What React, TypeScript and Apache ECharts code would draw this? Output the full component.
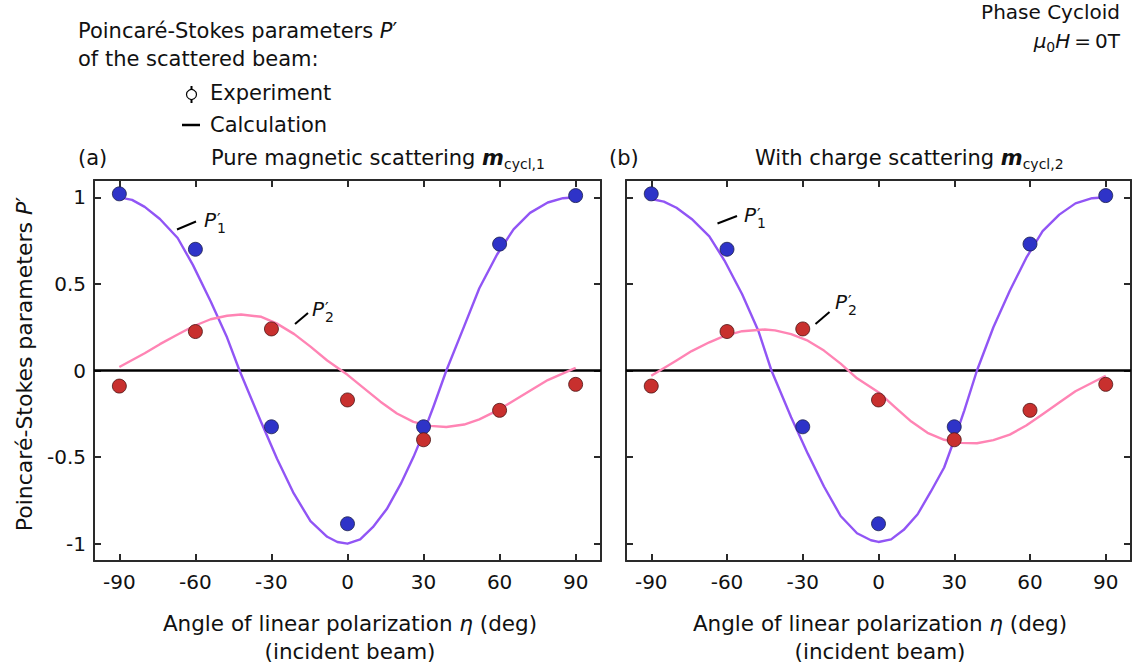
import React, { useEffect, useRef } from "react";
import * as echarts from "echarts";

// ---------- data ----------
const xTicks = [-90, -60, -30, 0, 30, 60, 90];
const yTicks = [-1, -0.5, 0, 0.5, 1];

const expAngles = [-90, -60, -30, 0, 30, 60, 90];
const expP1 = [1.02, 0.7, -0.325, -0.885, -0.325, 0.73, 1.01];
const expP2 = [-0.09, 0.225, 0.24, -0.17, -0.4, -0.23, -0.08];

// panel (a): pure magnetic scattering, calculation
const calcA_P1_angles = [-90, -85, -80, -74, -67, -61, -54, -47.5, -42.6, -34.3, -27.8, -21.2, -14.6, -8, -4, 0, 5, 10, 15.5, 21, 26, 30, 34, 39, 46, 52, 59, 65.5, 72, 79, 85, 90];
const calcA_P1 = [1.0, 0.985, 0.945, 0.875, 0.765, 0.61, 0.4, 0.19, 0, -0.29, -0.51, -0.71, -0.87, -0.96, -0.99, -1.0, -0.975, -0.905, -0.8, -0.655, -0.5, -0.36, -0.205, 0, 0.255, 0.475, 0.67, 0.815, 0.91, 0.97, 0.995, 1.0];
const calcA_P2_angles = [-90, -80, -74, -67, -61, -54, -47.5, -42, -34, -28, -21, -14.6, -8, 0, 6.3, 13, 19.5, 26, 32.6, 39, 46, 52, 59, 65.5, 72, 79, 90];
const calcA_P2 = [0.02, 0.1, 0.152, 0.208, 0.254, 0.296, 0.316, 0.323, 0.31, 0.272, 0.21, 0.138, 0.058, -0.025, -0.1, -0.18, -0.248, -0.297, -0.32, -0.326, -0.312, -0.282, -0.232, -0.175, -0.117, -0.055, 0.015];

// panel (b): with charge scattering, calculation
const calcB_P1_angles = [-90, -85, -80, -74, -67, -61, -54, -47.6, -42.4, -34.6, -28, -21.6, -15, -8.5, -3, 0, 5, 10, 15.5, 20.7, 26, 30, 34, 39, 45.5, 52, 58.5, 65, 71.6, 78, 84.6, 90];
const calcB_P1 = [0.99, 0.975, 0.94, 0.875, 0.775, 0.635, 0.44, 0.23, 0, -0.27, -0.48, -0.67, -0.84, -0.94, -0.98, -0.99, -0.975, -0.92, -0.83, -0.7, -0.56, -0.4, -0.23, 0, 0.25, 0.46, 0.65, 0.805, 0.9, 0.965, 0.995, 1.0];
const calcB_P2_angles = [-90, -80, -74, -67, -61, -54, -45, -41, -34.6, -28, -21.6, -15, -8.5, 0, 6.4, 13, 19.4, 26, 32.5, 39, 45.5, 52, 58.5, 65, 71.6, 78, 90];
const calcB_P2 = [-0.03, 0.058, 0.112, 0.163, 0.2, 0.227, 0.237, 0.232, 0.21, 0.172, 0.115, 0.04, -0.045, -0.125, -0.21, -0.295, -0.36, -0.4, -0.418, -0.42, -0.402, -0.37, -0.318, -0.252, -0.185, -0.12, -0.03];

const zeroLineX = [-100, 100];
const zeroLineY = [0, 0];

// ---------- style ----------
const FONT = "'DejaVu Sans', Verdana, sans-serif";
const FS = 21;
const FRAME = "#2a2a2a";
const PURPLE = "#9155F5";
const PINK = "#FF84B4";
const BLUE = "#2E33C8";
const RED = "#C8302E";

const zip = (a: number[], b: number[]) => a.map((v, i) => [v, b[i]]);

function makeXAxis(grid: number, pos: "bottom" | "top", labels: boolean) {
  return {
    type: "value",
    gridIndex: grid,
    position: pos,
    min: -100,
    max: 100,
    axisLine: { show: true, onZero: false, lineStyle: { color: FRAME, width: 2 } },
    axisTick: { show: true, inside: true, length: 7, customValues: xTicks, lineStyle: { color: FRAME, width: 2 } },
    axisLabel: {
      show: labels,
      customValues: xTicks,
      formatter: (v: number) => String(v),
      margin: 11,
      fontSize: 20,
      fontFamily: FONT,
      color: "#111",
    },
    splitLine: { show: false },
  };
}

function makeYAxis(grid: number, pos: "left" | "right", labels: boolean) {
  return {
    type: "value",
    gridIndex: grid,
    position: pos,
    min: -1.1,
    max: 1.1,
    axisLine: { show: true, onZero: false, lineStyle: { color: FRAME, width: 2 } },
    axisTick: { show: true, inside: true, length: 7, customValues: yTicks, lineStyle: { color: FRAME, width: 2 } },
    axisLabel: {
      show: labels,
      customValues: yTicks,
      formatter: (v: number) => String(v),
      margin: 8,
      fontSize: 20,
      fontFamily: FONT,
      color: "#111",
    },
    splitLine: { show: false },
  };
}

function panelSeries(xi: number, yi: number, p1a: number[], p1: number[], p2a: number[], p2: number[]) {
  return [
    {
      type: "line",
      xAxisIndex: xi,
      yAxisIndex: yi,
      data: zip(zeroLineX, zeroLineY),
      symbol: "none",
      silent: true,
      lineStyle: { color: "#000", width: 2.5 },
      z: 1,
    },
    {
      type: "line",
      xAxisIndex: xi,
      yAxisIndex: yi,
      data: zip(p1a, p1),
      symbol: "none",
      smooth: false,
      lineStyle: { color: PURPLE, width: 2.4, join: "round" },
      z: 2,
    },
    {
      type: "line",
      xAxisIndex: xi,
      yAxisIndex: yi,
      data: zip(p2a, p2),
      symbol: "none",
      smooth: false,
      lineStyle: { color: PINK, width: 2.4, join: "round" },
      z: 2,
    },
    {
      type: "scatter",
      xAxisIndex: xi,
      yAxisIndex: yi,
      data: zip(expAngles, expP1),
      symbol: "circle",
      symbolSize: 14,
      itemStyle: { color: BLUE, borderColor: "#1c1f4a", borderWidth: 0.8, opacity: 1 },
      z: 3,
    },
    {
      type: "scatter",
      xAxisIndex: xi,
      yAxisIndex: yi,
      data: zip(expAngles, expP2),
      symbol: "circle",
      symbolSize: 14,
      itemStyle: { color: RED, borderColor: "#4a1414", borderWidth: 0.8, opacity: 1 },
      z: 3,
    },
  ];
}

const baseText = { fontFamily: FONT, fontSize: FS, fill: "#111" };

function txt(x: number, y: number, text: string, align = "left", extra: any = {}) {
  return {
    type: "text",
    x,
    y,
    style: { ...baseText, text, align, verticalAlign: "middle", ...extra },
  };
}

function richStyles(fs: number) {
  return {
    n: { fontFamily: FONT, fontSize: fs, fill: "#111", lineHeight: 24 },
    i: { fontFamily: FONT, fontSize: fs, fontStyle: "italic", fill: "#111", lineHeight: 24 },
    m: { fontFamily: FONT, fontSize: fs, fontStyle: "italic", fontWeight: "bold", fill: "#111", lineHeight: 24 },
    s: { fontFamily: FONT, fontSize: 14, fill: "#111", lineHeight: 14, padding: [12, 0, 0, 0] },
  };
}

function richTxt(x: number, y: number, text: string, align = "left", rotation = 0, fs = FS) {
  return {
    type: "text",
    x,
    y,
    rotation,
    style: { ...baseText, fontSize: fs, text, align, verticalAlign: "middle", rich: richStyles(fs) },
  };
}

function pLabel(x: number, y: number, n: string, lx1: number, ly1: number, lx2: number, ly2: number) {
  return [
    { type: "line", shape: { x1: lx1, y1: ly1, x2: lx2, y2: ly2 }, style: { stroke: "#000", lineWidth: 2 } },
    txt(x, y, "P", "left", { fontStyle: "italic", fontSize: 20 }),
    txt(x + 13, y - 1, "\u2032", "left", { fontSize: 16 }),
    txt(x + 13, y + 8, n, "left", { fontSize: 14 }),
  ];
}

const graphics: any[] = [
  richTxt(78, 31, "{n|Poincaré-Stokes parameters }{i|P}{n|\u2032}"),
  txt(78, 59, "of the scattered beam:"),
  // legend
  { type: "line", shape: { x1: 191.5, y1: 86, x2: 191.5, y2: 103 }, style: { stroke: "#000", lineWidth: 2 } },
  { type: "circle", shape: { cx: 191.5, cy: 94.5, r: 5 }, style: { fill: "#fff", stroke: "#000", lineWidth: 1.2 } },
  txt(210, 93, "Experiment"),
  { type: "line", shape: { x1: 182, y1: 125, x2: 200, y2: 125 }, style: { stroke: "#000", lineWidth: 2.5 } },
  txt(210, 125, "Calculation"),
  // top right
  txt(1120, 12, "Phase Cycloid", "right", { fontSize: 20 }),
  richTxt(1120, 41, "{i|μ}{s|0}{i|H}{n|\u2009=\u20090T}", "right", 0, 20),
  // panel titles
  txt(78, 158, "(a)"),
  richTxt(211, 158, "{n|Pure magnetic scattering }{m|m}{s|cycl,1}"),
  txt(609, 158, "(b)"),
  richTxt(755, 158, "{n|With charge scattering }{m|m}{s|cycl,2}"),
  // axis titles
  richTxt(24, 364, "{n|Poincaré-Stokes parameters }{i|P}{n|\u2032}", "center", Math.PI / 2, 22),
  richTxt(350, 623, "{n|Angle of linear polarization }{i|η}{n| (deg)}", "center", 0, 21.5),
  txt(350, 651, "(incident beam)", "center", { fontSize: 21.5 }),
  richTxt(880, 623, "{n|Angle of linear polarization }{i|η}{n| (deg)}", "center", 0, 21.5),
  txt(880, 651, "(incident beam)", "center", { fontSize: 21.5 }),
  // curve labels
  ...pLabel(204, 220, "1", 177, 229.5, 196, 221.5),
  ...pLabel(312, 309, "2", 295, 324, 308, 313),
  ...pLabel(744, 215, "1", 717.5, 223.5, 737, 216),
  ...pLabel(835, 302, "2", 815.5, 324, 829.5, 312),
];

export default function App() {
  const ref = useRef<HTMLDivElement>(null);
  useEffect(() => {
    if (!ref.current) return;
    const chart = echarts.init(ref.current, undefined, { renderer: "svg" });
    chart.setOption({
      animation: false,
      backgroundColor: "#fff",
      grid: [
        { left: 94, top: 180, width: 507, height: 381 },
        { left: 626, top: 180, width: 505, height: 381 },
      ],
      xAxis: [makeXAxis(0, "bottom", true), makeXAxis(0, "top", false), makeXAxis(1, "bottom", true), makeXAxis(1, "top", false)],
      yAxis: [makeYAxis(0, "left", true), makeYAxis(0, "right", false), makeYAxis(1, "left", false), makeYAxis(1, "right", false)],
      series: [
        ...panelSeries(0, 0, calcA_P1_angles, calcA_P1, calcA_P2_angles, calcA_P2),
        ...panelSeries(2, 2, calcB_P1_angles, calcB_P1, calcB_P2_angles, calcB_P2),
      ],
      graphic: graphics,
    });
    return () => chart.dispose();
  }, []);
  return <div ref={ref} style={{ position: "fixed", left: 0, top: 0, width: 1133, height: 665 }} />;
}
